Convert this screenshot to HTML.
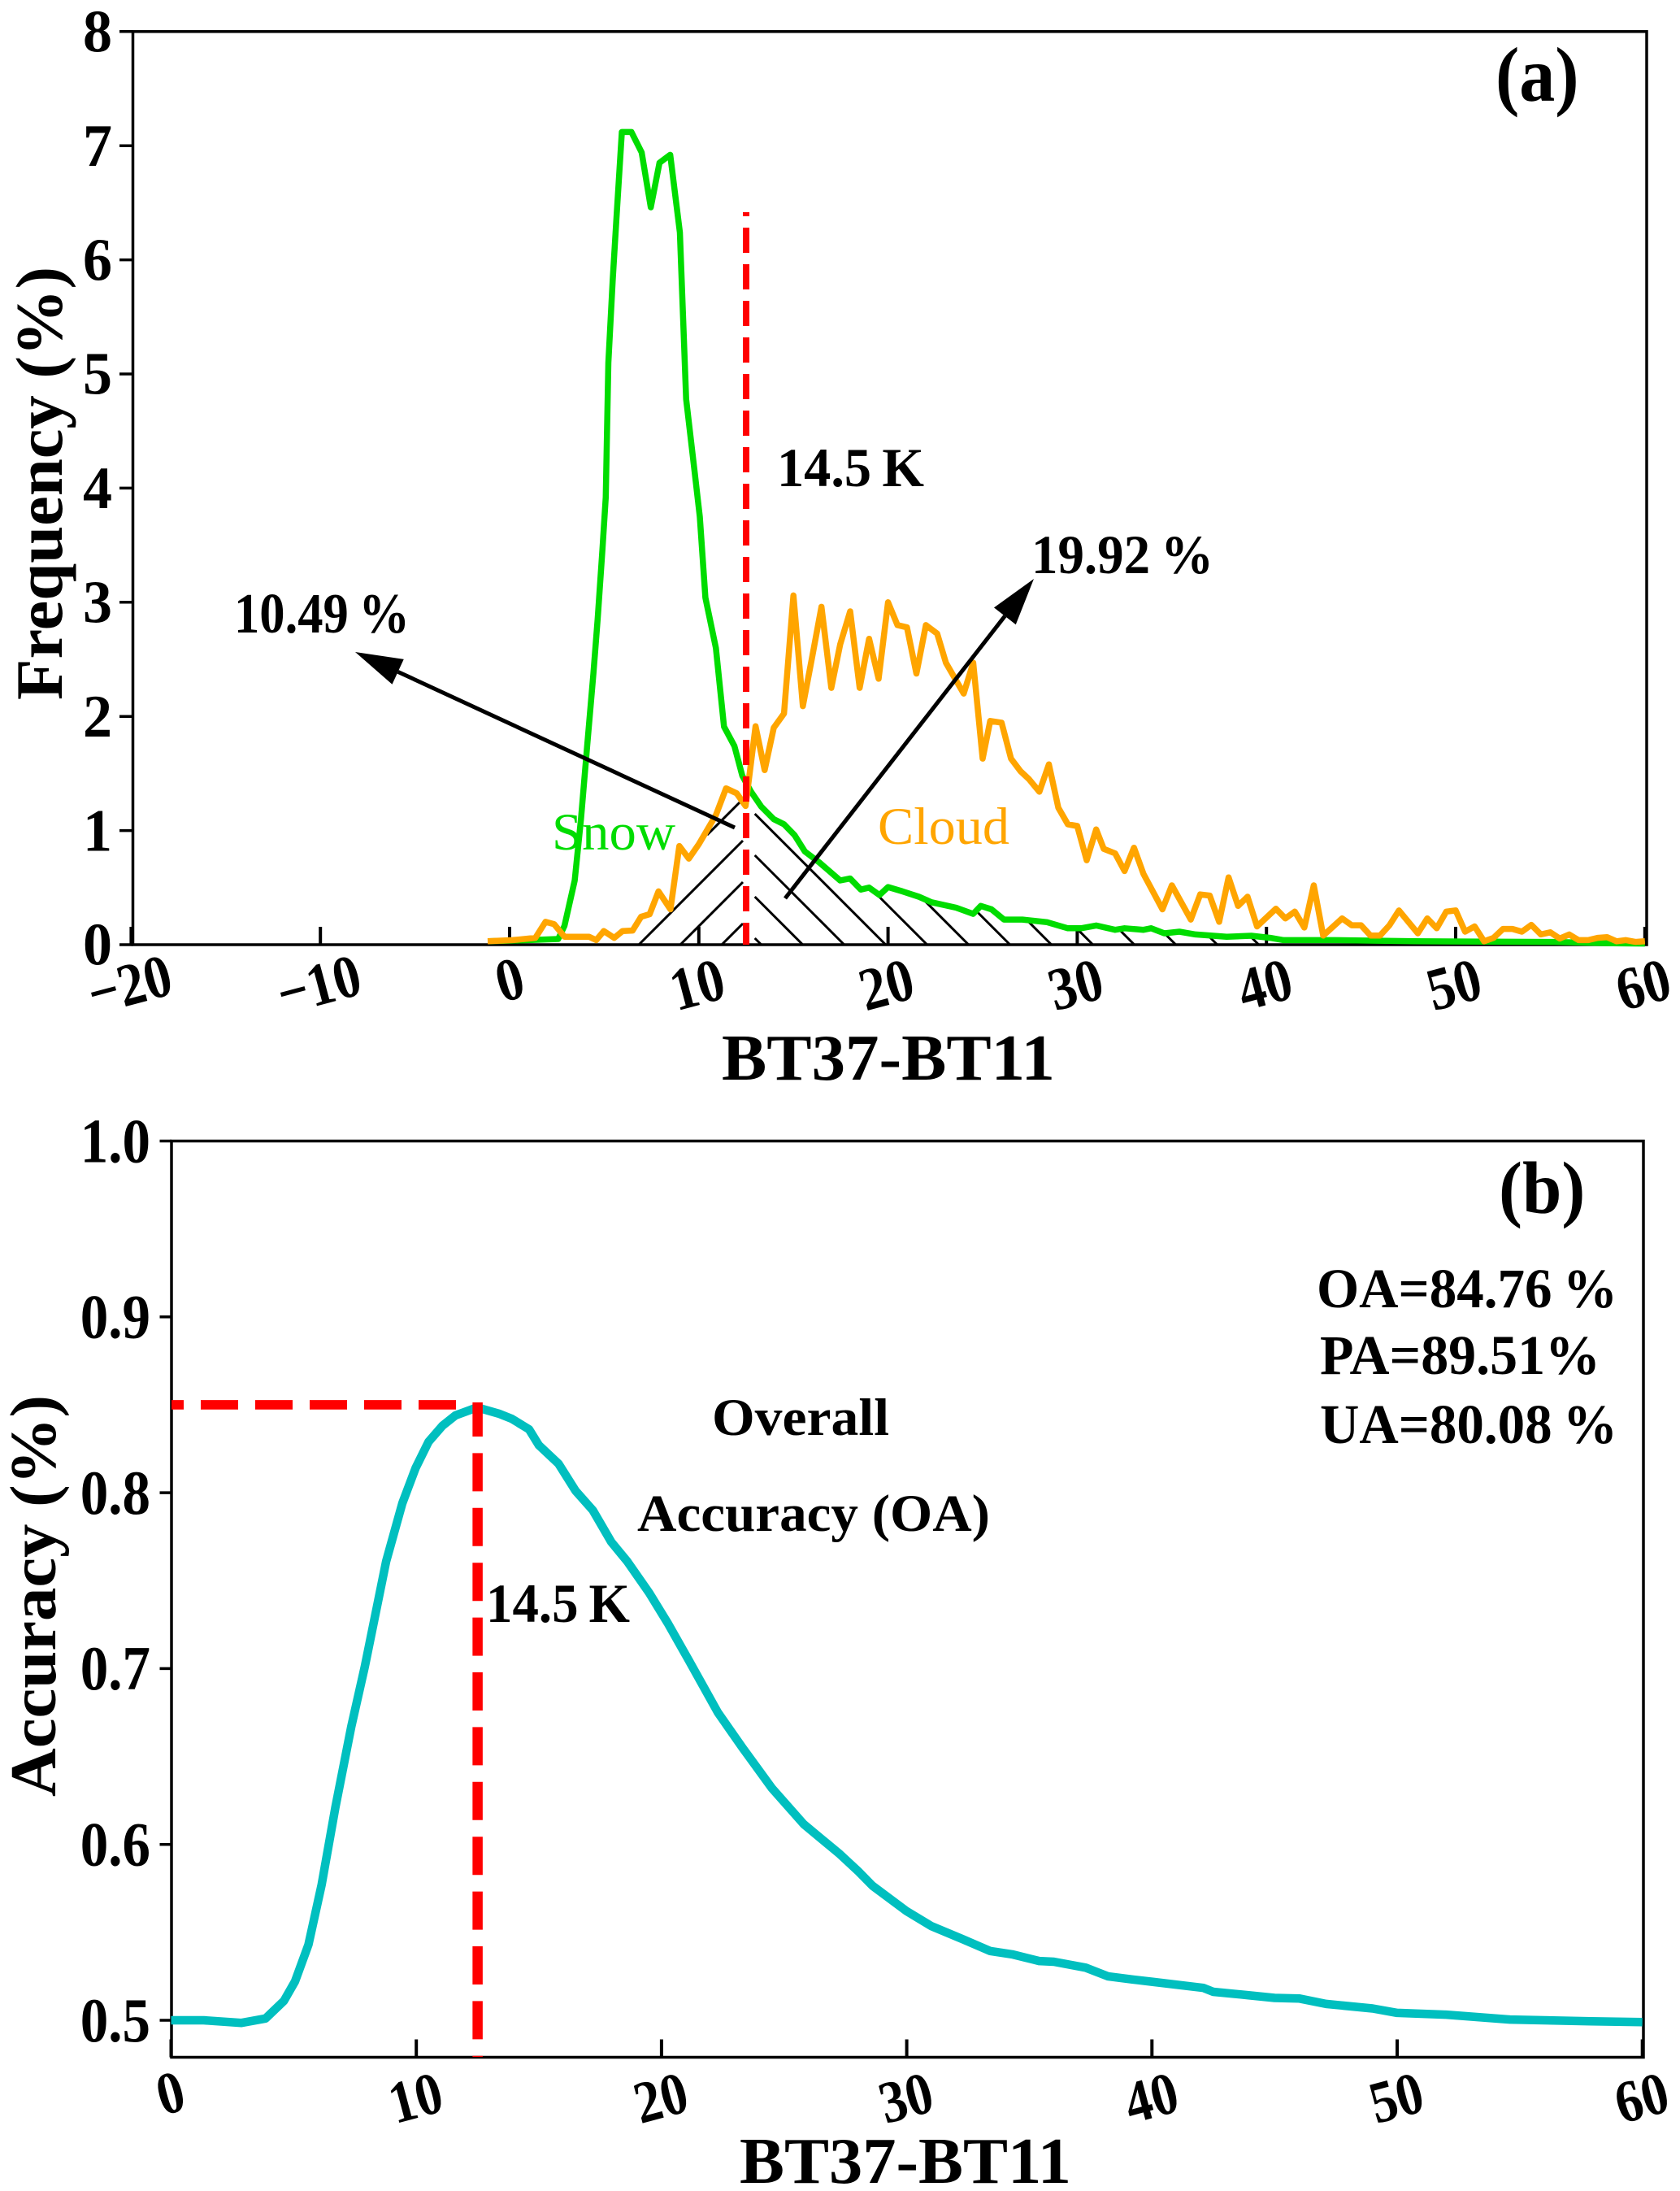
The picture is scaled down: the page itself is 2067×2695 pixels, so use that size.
<!DOCTYPE html>
<html lang="en">
<head>
<meta charset="utf-8">
<title>BT37-BT11 frequency and accuracy</title>
<style>
html,body{margin:0;padding:0;background:#fff;}
svg{display:block;}
text{font-family:"Liberation Serif",serif;font-weight:bold;fill:#000;}
</style>
</head>
<body>
<svg id="chart" xmlns="http://www.w3.org/2000/svg" width="2067" height="2695" viewBox="0 0 2067 2695">
  <rect width="2067" height="2695" fill="#fff"/>

  <g id="panelA"></g>
  <g id="panelB"></g>

  <!-- Panel (a) text -->
  <text transform="translate(76,861) rotate(-90)" font-size="82" textLength="533" lengthAdjust="spacingAndGlyphs">Frequency (%)</text>
  <text x="888" y="1328" font-size="80" textLength="410" lengthAdjust="spacingAndGlyphs">BT37-BT11</text>
  <text transform="translate(1840,124) scale(1,1.08)" font-size="88">(a)</text>
  <text transform="translate(956,598) scale(1,1.1)" font-size="62" textLength="181" lengthAdjust="spacingAndGlyphs">14.5&#8201;K</text>
  <text transform="translate(1269,705) scale(1,1.1)" font-size="62" textLength="224" lengthAdjust="spacingAndGlyphs">19.92&#8201;%</text>
  <text transform="translate(288,778) scale(1,1.12)" font-size="62" textLength="216" lengthAdjust="spacingAndGlyphs">10.49&#8201;%</text>
  <text x="679" y="1045" font-size="65" textLength="152" lengthAdjust="spacingAndGlyphs" style="font-weight:normal;fill:#00dc00">Snow</text>
  <text x="1080" y="1038" font-size="65" textLength="162" lengthAdjust="spacingAndGlyphs" style="font-weight:normal;fill:#ffa500">Cloud</text>

  <!-- Panel (b) text -->
  <text transform="translate(68,2210) rotate(-90)" font-size="80" textLength="494" lengthAdjust="spacingAndGlyphs">Accuracy (%)</text>
  <text x="910" y="2685" font-size="80" textLength="408" lengthAdjust="spacingAndGlyphs">BT37-BT11</text>
  <text transform="translate(1844,1492) scale(1,1.05)" font-size="87">(b)</text>
  <text transform="translate(1620,1608) scale(1,1.05)" font-size="66" textLength="370" lengthAdjust="spacingAndGlyphs">OA=84.76&#8201;%</text>
  <text transform="translate(1624,1690) scale(1,1.05)" font-size="66" textLength="345" lengthAdjust="spacingAndGlyphs">PA=89.51%</text>
  <text transform="translate(1624,1775) scale(1,1.05)" font-size="66" textLength="366" lengthAdjust="spacingAndGlyphs">UA=80.08&#8201;%</text>
  <text transform="translate(876,1765) scale(1,1.05)" font-size="62" textLength="218" lengthAdjust="spacingAndGlyphs">Overall</text>
  <text transform="translate(784,1883) scale(1,1.05)" font-size="62" textLength="434" lengthAdjust="spacingAndGlyphs">Accuracy (OA)</text>
  <text transform="translate(598,1995) scale(1,1.1)" font-size="62" textLength="177" lengthAdjust="spacingAndGlyphs">14.5&#8201;K</text>
</svg>

<script>
// ---------- Panel (a) data ----------
const freqYTicks = [0, 1, 2, 3, 4, 5, 6, 7, 8];
const freqXTicks = [-20, -10, 0, 10, 20, 30, 40, 50, 60];
const snowX = [-1.1, 1, 2.57, 2.9, 3.44, 3.77, 4.1, 4.43, 4.65, 4.9, 5.08, 5.22, 5.45, 5.65, 5.93, 6.44, 6.98, 7.46, 7.92, 8.49, 9.0, 9.33, 9.76, 10.05, 10.35, 10.9, 11.33, 11.88, 12.3, 12.76, 13.3, 13.96, 14.5, 15.06, 15.6, 16.37, 17.47, 18, 18.56, 19, 19.55, 20, 20.76, 21.63, 22.3, 23.6, 24.5, 24.9, 25.47, 26.13, 27.1, 28.4, 29.5, 30.2, 31, 32, 32.5, 33.5, 33.9, 34.6, 35.4, 36.25, 37.9, 39.2, 40.2, 40.9, 43.6, 47.8, 55.2, 58.3, 60];
const snowY = [0.03, 0.04, 0.05, 0.165, 0.563, 1.1, 1.74, 2.375, 2.85, 3.45, 3.92, 5.1, 5.83, 6.37, 7.12, 7.12, 6.94, 6.46, 6.85, 6.92, 6.24, 4.78, 4.17, 3.75, 3.04, 2.6, 1.91, 1.74, 1.48, 1.34, 1.21, 1.1, 1.055, 0.96, 0.817, 0.72, 0.563, 0.58, 0.483, 0.5, 0.435, 0.505, 0.467, 0.42, 0.372, 0.324, 0.27, 0.34, 0.31, 0.22, 0.22, 0.197, 0.144, 0.144, 0.168, 0.13, 0.144, 0.13, 0.144, 0.1, 0.114, 0.09, 0.07, 0.078, 0.06, 0.04, 0.04, 0.03, 0.024, 0.012, 0.01];
const cloudX = [-1.16, 0.16, 1.36, 1.9, 2.35, 2.9, 4.2, 4.58, 4.98, 5.53, 5.97, 6.5, 6.95, 7.4, 7.87, 8.5, 8.97, 9.47, 10, 10.9, 11.44, 12, 12.47, 12.7, 13, 13.48, 13.96, 14.5, 15, 15.5, 16, 16.48, 17, 17.47, 18, 18.5, 19, 19.5, 20, 20.5, 21, 21.5, 22, 22.6, 23.06, 24, 24.5, 25, 25.4, 26, 26.5, 27, 27.45, 28, 28.5, 29, 29.5, 30, 30.5, 31, 31.4, 32, 32.5, 33, 33.5, 34.5, 35, 36, 36.5, 37, 37.5, 38, 38.5, 39, 39.5, 40.5, 41, 41.5, 42, 42.5, 43, 44, 44.5, 45, 45.5, 46, 46.5, 47, 48, 48.5, 49, 49.5, 50, 50.5, 51, 51.5, 52, 52.5, 53, 53.5, 54, 54.5, 55, 55.5, 56, 56.5, 57, 57.5, 58, 58.5, 59, 59.5, 60];
const cloudY = [0.03, 0.04, 0.06, 0.2, 0.18, 0.07, 0.07, 0.04, 0.12, 0.06, 0.12, 0.124, 0.245, 0.267, 0.467, 0.31, 0.865, 0.754, 0.88, 1.135, 1.37, 1.326, 1.215, 1.52, 1.914, 1.53, 1.9, 2.025, 3.06, 2.09, 2.53, 2.96, 2.25, 2.63, 2.92, 2.25, 2.68, 2.33, 3.0, 2.8, 2.78, 2.375, 2.8, 2.725, 2.47, 2.2, 2.47, 1.63, 1.96, 1.945, 1.63, 1.52, 1.45, 1.34, 1.58, 1.2, 1.055, 1.04, 0.74, 1.01, 0.84, 0.8, 0.645, 0.85, 0.62, 0.31, 0.52, 0.22, 0.44, 0.43, 0.2, 0.59, 0.34, 0.42, 0.16, 0.315, 0.23, 0.29, 0.15, 0.52, 0.08, 0.23, 0.17, 0.17, 0.08, 0.08, 0.17, 0.3, 0.1, 0.23, 0.144, 0.29, 0.3, 0.114, 0.16, 0.03, 0.06, 0.138, 0.138, 0.114, 0.174, 0.09, 0.108, 0.054, 0.09, 0.04, 0.04, 0.06, 0.066, 0.03, 0.04, 0.024, 0.03];
const freqThreshold = [12.5];

// ---------- Panel (b) data ----------
const accYTicks = [0.5, 0.6, 0.7, 0.8, 0.9, 1.0];
const accYLabels = ["0.5", "0.6", "0.7", "0.8", "0.9", "1.0"];
const accXTicks = [0, 10, 20, 30, 40, 50, 60];
const accX = [0, 1.33, 2.87, 3.85, 4.6, 5.05, 5.6, 6.14, 6.7, 7.35, 7.9, 8.77, 9.43, 9.97, 10.5, 11.06, 11.6, 12.48, 13.36, 13.9, 14.6, 15, 15.8, 16.5, 17.2, 17.95, 18.6, 19.5, 20.25, 21.1, 22.3, 23.3, 24.5, 25.8, 27.27, 28, 28.6, 30, 31, 32.3, 33.4, 34.3, 35.4, 36, 37.3, 38.2, 39.2, 40, 42.1, 42.5, 43.9, 45, 46, 47.1, 49, 50, 52, 54.6, 57.9, 60];
const accY = [0.5, 0.5, 0.4985, 0.501, 0.511, 0.522, 0.543, 0.577, 0.621, 0.667, 0.701, 0.761, 0.794, 0.814, 0.829, 0.838, 0.844, 0.8485, 0.845, 0.842, 0.836, 0.827, 0.8165, 0.801, 0.79, 0.772, 0.761, 0.743, 0.726, 0.705, 0.675, 0.655, 0.632, 0.6115, 0.5945, 0.585, 0.5765, 0.562, 0.5536, 0.546, 0.5394, 0.5375, 0.5337, 0.5333, 0.5299, 0.525, 0.5232, 0.5219, 0.5184, 0.5162, 0.5143, 0.5127, 0.5124, 0.5093, 0.5067, 0.5042, 0.5032, 0.5004, 0.4994, 0.499];
const accThresholdX = [12.5];
const accPeak = [0.85];

// ---------- Axis functions ----------
const ax = v => 627 + 23.28 * v;
const ay = v => 1162 - 140.4 * v;
const bx = v => 210.5 + 30.17 * v;
const by = v => 2485 - 2163 * (v - 0.5);

const NS = 'http://www.w3.org/2000/svg';
const panelA = document.getElementById('panelA');
const panelB = document.getElementById('panelB');

function line(parent, x1, y1, x2, y2, color, width, dash, offset) {
  const el = document.createElementNS(NS, 'line');
  el.setAttribute('x1', x1);
  el.setAttribute('y1', y1);
  el.setAttribute('x2', x2);
  el.setAttribute('y2', y2);
  el.setAttribute('stroke', color);
  el.setAttribute('stroke-width', width);
  if (dash) el.setAttribute('stroke-dasharray', dash);
  if (offset) el.setAttribute('stroke-dashoffset', offset);
  parent.appendChild(el);
  return el;
}

function polyline(parent, xs, ys, fx, fy, color, width) {
  const el = document.createElementNS(NS, 'polyline');
  el.setAttribute('points', xs.map((v, i) => fx(v).toFixed(1) + ',' + fy(ys[i]).toFixed(1)).join(' '));
  el.setAttribute('fill', 'none');
  el.setAttribute('stroke', color);
  el.setAttribute('stroke-width', width);
  el.setAttribute('stroke-linejoin', 'round');
  parent.appendChild(el);
  return el;
}

function tickText(parent, str, transform, size, anchor, yOff) {
  const el = document.createElementNS(NS, 'text');
  el.setAttribute('transform', transform);
  el.setAttribute('font-size', size);
  el.setAttribute('text-anchor', anchor);
  el.setAttribute('y', yOff);
  el.textContent = str;
  parent.appendChild(el);
  return el;
}

function lerp(xs, ys, v) {
  if (v <= xs[0]) return ys[0];
  for (let i = 1; i < xs.length; i++) {
    if (v <= xs[i]) {
      const t = (v - xs[i - 1]) / (xs[i] - xs[i - 1]);
      return ys[i - 1] + t * (ys[i] - ys[i - 1]);
    }
  }
  return ys[ys.length - 1];
}

// ---------- Panel (a) ----------
const aFrame = document.createElementNS(NS, 'rect');


aFrame.setAttribute('x', 163.5);
aFrame.setAttribute('y', ay(8));
aFrame.setAttribute('width', 2026 - 163.5);
aFrame.setAttribute('height', ay(0) - ay(8));
aFrame.setAttribute('fill', 'none');
aFrame.setAttribute('stroke', '#000');
aFrame.setAttribute('stroke-width', 3.5);
panelA.appendChild(aFrame);

freqYTicks.forEach(v => {
  const t = line(panelA, 147, ay(v), 163.5, ay(v), '#000', 3.5);
  
  
  const l = tickText(panelA, String(v), 'translate(138,' + ay(v) + ') scale(1,1.03)', 72, 'end', 24);
  
  
});

freqXTicks.forEach(v => {
  const t = line(panelA, ax(v), ay(0), ax(v), ay(0) - 22, '#000', 4);
  
  
  const str = v < 0 ? '\u2212' + Math.abs(v) : String(v);
  const cx = v === 0 ? ax(v) : ax(v) - 2;
  const cy = v === 0 ? 1205 : 1211;
  const l = tickText(panelA, str, 'translate(' + cx + ',' + cy + ') rotate(-15) scale(1,1.13)', 66, 'middle', 22);
  
  
});

// Hatching under the overlap, derived from the threshold and snow curve
const hatchStep = 51;
const hatchTop = ay(0);
for (let k = 0; k < 4; k++) {
  const b = ax(freqThreshold[0]) - 30 - hatchStep * k;
  const endX = ax(freqThreshold[0]) - 4;
  const startX = k === 3 ? b + 135 : b;
  const h = line(panelA, startX, hatchTop - (startX - b), endX, hatchTop - (endX - b), '#000', 3);
  
  
}
for (let k = 0; k < 13; k++) {
  const b = ax(freqThreshold[0]) + 18.7 + hatchStep * k;
  const minX = ax(freqThreshold[0]) + 11;
  let x = b;
  while (x > minX) {
    const yy = hatchTop - (b - x);
    const curve = ay(lerp(snowX, snowY, (x - 627) / 23.28));
    if (yy <= curve) break;
    x -= 1;
  }
  const h = line(panelA, b, hatchTop, x, hatchTop - (b - x), '#000', 3);
  
  
}

const snowLine = polyline(panelA, snowX, snowY, ax, ay, '#00dc00', 7.5);



const cloudLine = polyline(panelA, cloudX, cloudY, ax, ay, '#ffa500', 7.5);



const aThresh = line(panelA, ax(freqThreshold[0]), 261, ax(freqThreshold[0]), ay(0), '#ff0000', 8, '31 14', 26);



function arrow(parent, x1, y1, x2, y2, name) {
  const dx = x2 - x1, dy = y2 - y1, len = Math.hypot(dx, dy);
  const ux = dx / len, uy = dy / len;
  const hl = 58, hw = 17;
  const bxx = x2 - ux * hl, byy = y2 - uy * hl;
  const shaft = line(parent, x1, y1, bxx, byy, '#000', 5);
  
  
  const head = document.createElementNS(NS, 'polygon');
  head.setAttribute('points', [x2, y2, bxx - uy * hw, byy + ux * hw, bxx + uy * hw, byy - ux * hw].join(' '));
  head.setAttribute('fill', '#000');
  
  
  parent.appendChild(head);
}
arrow(panelA, 904, 1018, 437, 802, 'snow-arrow');
arrow(panelA, 966, 1105, 1272, 712, 'cloud-arrow');

// ---------- Panel (b) ----------
const bFrame = document.createElementNS(NS, 'rect');


bFrame.setAttribute('x', 211);
bFrame.setAttribute('y', by(1));
bFrame.setAttribute('width', 2022 - 211);
bFrame.setAttribute('height', 2530.5 - by(1));
bFrame.setAttribute('fill', 'none');
bFrame.setAttribute('stroke', '#000');
bFrame.setAttribute('stroke-width', 3.5);
panelB.appendChild(bFrame);

accYTicks.forEach((v, i) => {
  const t = line(panelB, 196.5, by(v), 211, by(v), '#000', 3.5);
  
  
  const l = tickText(panelB, accYLabels[i], 'translate(185,' + by(v) + ') scale(1,1.12)', 69, 'end', 23);
  
  
});

accXTicks.forEach(v => {
  const t = line(panelB, bx(v), 2530.5, bx(v), 2508.5, '#000', 4);
  
  
  const cy = v === 0 ? 2574 : 2580;
  const l = tickText(panelB, String(v), 'translate(' + (bx(v) - 1) + ',' + cy + ') rotate(-15) scale(1,1.13)', 65, 'middle', 22);
  
  
});

const accLine = polyline(panelB, accX, accY, bx, by, '#00bfbf', 10.5);



const bH = line(panelB, 211, by(accPeak[0]), bx(accThresholdX[0]) - 23, by(accPeak[0]), '#ff0000', 11.6, '46 21', 31);



const bV = line(panelB, bx(accThresholdX[0]), 1725, bx(accThresholdX[0]), 2530, '#ff0000', 12.5, '47 20.4', 5);


</script>
</body>
</html>
